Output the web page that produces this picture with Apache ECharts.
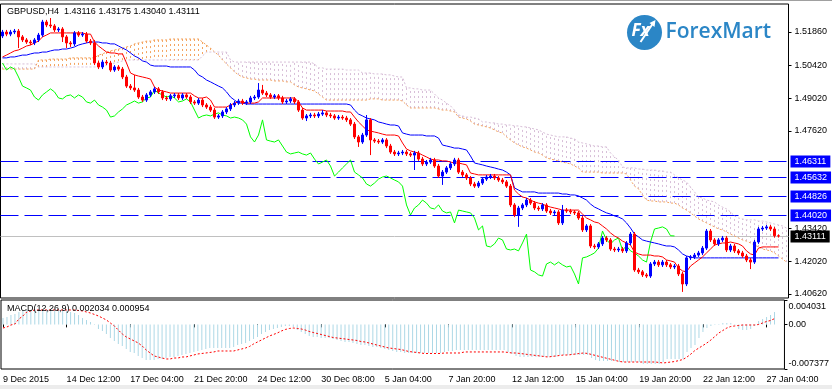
<!DOCTYPE html>
<html><head><meta charset="utf-8">
<script src="https://cdn.jsdelivr.net/npm/echarts@6/dist/echarts.min.js"></script>
<style>html,body{margin:0;padding:0;background:#fff}#c{width:832px;height:389px}</style>
</head><body><div id="c"></div>
<script>
const opens=[1.5169,1.5186,1.5177,1.5186,1.5190,1.5165,1.5152,1.5143,1.5139,1.5152,
1.5173,1.5229,1.5216,1.5212,1.5195,1.5199,1.5165,1.5139,1.5135,1.5182,
1.5173,1.5177,1.5147,1.5139,1.5053,1.5036,1.5057,1.5053,1.5023,1.5036,
1.5027,1.4993,1.4954,1.4946,1.4937,1.4907,1.4894,1.4916,1.4929,1.4942,
1.4929,1.4903,1.4899,1.4912,1.4916,1.4903,1.4916,1.4907,1.4886,1.4881,
1.4894,1.4873,1.4864,1.4851,1.4821,1.4826,1.4843,1.4856,1.4873,1.4881,
1.4890,1.4881,1.4886,1.4903,1.4907,1.4937,1.4924,1.4916,1.4907,1.4912,
1.4903,1.4886,1.4890,1.4899,1.4886,1.4851,1.4817,1.4826,1.4830,1.4826,
1.4834,1.4839,1.4830,1.4826,1.4817,1.4821,1.4817,1.4809,1.4791,1.4736,
1.4714,1.4744,1.4809,1.4723,1.4718,1.4714,1.4723,1.4697,1.4671,1.4663,
1.4667,1.4671,1.4663,1.4658,1.4667,1.4641,1.4620,1.4628,1.4637,1.4611,
1.4568,1.4585,1.4603,1.4620,1.4637,1.4585,1.4573,1.4560,1.4534,1.4525,
1.4538,1.4555,1.4564,1.4568,1.4560,1.4551,1.4543,1.4525,1.4444,1.4401,
1.4431,1.4444,1.4465,1.4452,1.4431,1.4427,1.4444,1.4418,1.4410,1.4414,
1.4367,1.4422,1.4418,1.4414,1.4410,1.4388,1.4337,1.4354,1.4268,1.4264,
1.4277,1.4302,1.4294,1.4255,1.4251,1.4255,1.4247,1.4281,1.4319,1.4165,
1.4157,1.4144,1.4139,1.4191,1.4199,1.4187,1.4199,1.4187,1.4178,1.4182,
1.4148,1.4105,1.4217,1.4221,1.4229,1.4238,1.4259,1.4332,1.4294,1.4277,
1.4294,1.4302,1.4251,1.4268,1.4247,1.4238,1.4225,1.4208,1.4199,1.4285,
1.4341,1.4345,1.4350,1.4341,1.43116];
const highs=[1.5195,1.5195,1.5195,1.5199,1.5199,1.5173,1.5160,1.5152,1.5160,1.5182,
1.5238,1.5238,1.5246,1.5220,1.5207,1.5207,1.5173,1.5147,1.5190,1.5190,
1.5186,1.5186,1.5156,1.5152,1.5062,1.5066,1.5066,1.5062,1.5044,1.5044,
1.5036,1.5002,1.4963,1.5002,1.4946,1.4916,1.4924,1.4937,1.4950,1.4950,
1.4937,1.4912,1.4920,1.4924,1.4924,1.4924,1.4924,1.4916,1.4894,1.4903,
1.4903,1.4881,1.4873,1.4860,1.4834,1.4851,1.4864,1.4881,1.4890,1.4899,
1.4899,1.4894,1.4912,1.4916,1.4967,1.4959,1.4933,1.4924,1.4920,1.4920,
1.4912,1.4899,1.4907,1.4907,1.4894,1.4860,1.4834,1.4839,1.4839,1.4843,
1.4851,1.4847,1.4839,1.4834,1.4830,1.4830,1.4826,1.4817,1.4800,1.4744,
1.4753,1.4830,1.4817,1.4731,1.4727,1.4731,1.4731,1.4706,1.4680,1.4676,
1.4680,1.4680,1.4671,1.4676,1.4676,1.4650,1.4637,1.4646,1.4646,1.4620,
1.4594,1.4611,1.4628,1.4646,1.4646,1.4594,1.4581,1.4568,1.4543,1.4547,
1.4564,1.4573,1.4577,1.4577,1.4568,1.4560,1.4551,1.4534,1.4452,1.4440,
1.4452,1.4474,1.4474,1.4461,1.4440,1.4452,1.4452,1.4427,1.4422,1.4422,
1.4444,1.4431,1.4427,1.4422,1.4418,1.4397,1.4362,1.4362,1.4277,1.4285,
1.4311,1.4311,1.4302,1.4264,1.4264,1.4264,1.4289,1.4328,1.4328,1.4174,
1.4165,1.4152,1.4199,1.4208,1.4208,1.4208,1.4208,1.4195,1.4191,1.4191,
1.4157,1.4225,1.4229,1.4238,1.4247,1.4268,1.4341,1.4341,1.4302,1.4302,
1.4311,1.4311,1.4277,1.4277,1.4255,1.4247,1.4234,1.4217,1.4294,1.4350,
1.4354,1.4358,1.4358,1.4350,1.43175];
const lows=[1.5160,1.5168,1.5168,1.5177,1.5117,1.5143,1.5135,1.5130,1.5130,1.5143,
1.5165,1.5207,1.5203,1.5186,1.5186,1.5143,1.5117,1.5122,1.5126,1.5165,
1.5165,1.5139,1.5130,1.5044,1.5027,1.5027,1.5044,1.5015,1.5015,1.5019,
1.4984,1.4946,1.4937,1.4929,1.4899,1.4886,1.4886,1.4907,1.4920,1.4920,
1.4894,1.4890,1.4890,1.4903,1.4894,1.4894,1.4899,1.4877,1.4873,1.4873,
1.4864,1.4856,1.4843,1.4813,1.4813,1.4817,1.4834,1.4847,1.4864,1.4873,
1.4873,1.4873,1.4877,1.4894,1.4899,1.4916,1.4907,1.4899,1.4899,1.4894,
1.4877,1.4877,1.4881,1.4877,1.4843,1.4809,1.4804,1.4817,1.4817,1.4817,
1.4826,1.4821,1.4817,1.4809,1.4809,1.4809,1.4800,1.4783,1.4727,1.4693,
1.4706,1.4736,1.4658,1.4710,1.4706,1.4706,1.4688,1.4663,1.4654,1.4654,
1.4658,1.4654,1.4650,1.4594,1.4633,1.4611,1.4611,1.4620,1.4603,1.4560,
1.4530,1.4577,1.4594,1.4611,1.4577,1.4564,1.4551,1.4525,1.4517,1.4517,
1.4530,1.4547,1.4555,1.4551,1.4543,1.4534,1.4517,1.4435,1.4392,1.4350,
1.4422,1.4435,1.4444,1.4422,1.4418,1.4418,1.4410,1.4401,1.4401,1.4358,
1.4358,1.4410,1.4405,1.4401,1.4380,1.4328,1.4328,1.4259,1.4255,1.4255,
1.4268,1.4285,1.4247,1.4242,1.4242,1.4238,1.4238,1.4272,1.4157,1.4148,
1.4135,1.4131,1.4131,1.4182,1.4178,1.4178,1.4178,1.4169,1.4169,1.4139,
1.4071,1.4096,1.4208,1.4212,1.4221,1.4229,1.4251,1.4285,1.4268,1.4268,
1.4285,1.4242,1.4242,1.4238,1.4229,1.4217,1.4199,1.4169,1.4191,1.4277,
1.4332,1.4337,1.4332,1.4304,1.43040];
const closes=[1.5186,1.5177,1.5186,1.5190,1.5165,1.5152,1.5143,1.5139,1.5152,1.5173,
1.5229,1.5216,1.5212,1.5195,1.5199,1.5165,1.5139,1.5135,1.5182,1.5173,
1.5177,1.5147,1.5139,1.5053,1.5036,1.5057,1.5053,1.5023,1.5036,1.5027,
1.4993,1.4954,1.4946,1.4937,1.4907,1.4894,1.4916,1.4929,1.4942,1.4929,
1.4903,1.4899,1.4912,1.4916,1.4903,1.4916,1.4907,1.4886,1.4881,1.4894,
1.4873,1.4864,1.4851,1.4821,1.4826,1.4843,1.4856,1.4873,1.4881,1.4890,
1.4881,1.4886,1.4903,1.4907,1.4937,1.4924,1.4916,1.4907,1.4912,1.4903,
1.4886,1.4890,1.4899,1.4886,1.4851,1.4817,1.4826,1.4830,1.4826,1.4834,
1.4839,1.4830,1.4826,1.4817,1.4821,1.4817,1.4809,1.4791,1.4736,1.4714,
1.4744,1.4809,1.4723,1.4718,1.4714,1.4723,1.4697,1.4671,1.4663,1.4667,
1.4671,1.4663,1.4658,1.4667,1.4641,1.4620,1.4628,1.4637,1.4611,1.4568,
1.4585,1.4603,1.4620,1.4637,1.4585,1.4573,1.4560,1.4534,1.4525,1.4538,
1.4555,1.4564,1.4568,1.4560,1.4551,1.4543,1.4525,1.4444,1.4401,1.4431,
1.4444,1.4465,1.4452,1.4431,1.4427,1.4444,1.4418,1.4410,1.4414,1.4367,
1.4422,1.4418,1.4414,1.4410,1.4388,1.4337,1.4354,1.4268,1.4264,1.4277,
1.4302,1.4294,1.4255,1.4251,1.4255,1.4247,1.4281,1.4319,1.4165,1.4157,
1.4144,1.4139,1.4191,1.4199,1.4187,1.4199,1.4187,1.4178,1.4182,1.4148,
1.4105,1.4217,1.4221,1.4229,1.4238,1.4259,1.4332,1.4294,1.4277,1.4294,
1.4302,1.4251,1.4268,1.4247,1.4238,1.4225,1.4208,1.4199,1.4285,1.4341,
1.4345,1.4350,1.4341,1.4312,1.43111];
const tenkan=[1.5079,1.5087,1.5096,1.5105,1.5109,1.5117,1.5126,1.5130,1.5139,1.5147,
1.5165,1.5173,1.5182,1.5182,1.5182,1.5182,1.5182,1.5182,1.5182,1.5182,
1.5182,1.5177,1.5177,1.5143,1.5126,1.5113,1.5100,1.5096,1.5096,1.5092,
1.5092,1.5053,1.5010,1.5002,1.4997,1.4993,1.4989,1.4984,1.4950,1.4937,
1.4933,1.4929,1.4924,1.4924,1.4924,1.4924,1.4924,1.4924,1.4912,1.4903,
1.4903,1.4907,1.4894,1.4864,1.4864,1.4864,1.4864,1.4873,1.4881,1.4886,
1.4886,1.4881,1.4881,1.4881,1.4886,1.4903,1.4903,1.4903,1.4903,1.4903,
1.4903,1.4903,1.4903,1.4903,1.4886,1.4860,1.4851,1.4851,1.4851,1.4851,
1.4851,1.4847,1.4847,1.4847,1.4847,1.4847,1.4843,1.4843,1.4821,1.4800,
1.4783,1.4766,1.4761,1.4757,1.4753,1.4748,1.4744,1.4744,1.4744,1.4740,
1.4710,1.4684,1.4676,1.4671,1.4667,1.4658,1.4650,1.4641,1.4637,1.4637,
1.4633,1.4633,1.4628,1.4624,1.4624,1.4620,1.4616,1.4581,1.4577,1.4573,
1.4573,1.4573,1.4573,1.4573,1.4573,1.4573,1.4573,1.4573,1.4508,1.4491,
1.4478,1.4474,1.4465,1.4457,1.4452,1.4448,1.4440,1.4435,1.4431,1.4427,
1.4422,1.4422,1.4422,1.4422,1.4422,1.4405,1.4388,1.4380,1.4371,1.4367,
1.4354,1.4341,1.4324,1.4311,1.4302,1.4289,1.4281,1.4272,1.4242,1.4234,
1.4229,1.4229,1.4229,1.4225,1.4225,1.4221,1.4208,1.4204,1.4199,1.4174,
1.4161,1.4157,1.4182,1.4195,1.4208,1.4221,1.4238,1.4255,1.4272,1.4277,
1.4281,1.4281,1.4285,1.4281,1.4277,1.4268,1.4247,1.4234,1.4229,1.4259,
1.4264,1.4264,1.4264,1.4264,1.4264];
const kijun=[1.5075,1.5075,1.5079,1.5079,1.5083,1.5087,1.5087,1.5092,1.5096,1.5096,
1.5100,1.5100,1.5105,1.5109,1.5109,1.5113,1.5113,1.5117,1.5122,1.5130,
1.5135,1.5139,1.5143,1.5143,1.5143,1.5139,1.5139,1.5135,1.5135,1.5126,
1.5117,1.5109,1.5096,1.5083,1.5075,1.5062,1.5057,1.5044,1.5040,1.5040,
1.5040,1.5040,1.5036,1.5036,1.5036,1.5036,1.5036,1.5036,1.5023,1.5002,
1.4993,1.4980,1.4972,1.4963,1.4954,1.4946,1.4929,1.4907,1.4894,1.4881,
1.4881,1.4877,1.4877,1.4877,1.4877,1.4877,1.4877,1.4877,1.4877,1.4877,
1.4877,1.4877,1.4877,1.4877,1.4877,1.4877,1.4877,1.4877,1.4877,1.4877,
1.4877,1.4877,1.4877,1.4877,1.4877,1.4877,1.4877,1.4873,1.4851,1.4834,
1.4826,1.4817,1.4813,1.4809,1.4800,1.4796,1.4791,1.4787,1.4787,1.4783,
1.4753,1.4748,1.4744,1.4744,1.4744,1.4744,1.4740,1.4740,1.4740,1.4731,
1.4701,1.4697,1.4693,1.4688,1.4688,1.4684,1.4680,1.4654,1.4624,1.4620,
1.4616,1.4611,1.4607,1.4603,1.4598,1.4594,1.4585,1.4573,1.4517,1.4508,
1.4500,1.4500,1.4500,1.4500,1.4495,1.4495,1.4495,1.4495,1.4495,1.4495,
1.4491,1.4491,1.4487,1.4487,1.4483,1.4474,1.4465,1.4448,1.4435,1.4427,
1.4418,1.4410,1.4405,1.4397,1.4392,1.4384,1.4367,1.4345,1.4319,1.4307,
1.4294,1.4289,1.4285,1.4281,1.4277,1.4272,1.4268,1.4268,1.4264,1.4251,
1.4234,1.4225,1.4221,1.4217,1.4217,1.4217,1.4217,1.4217,1.4217,1.4217,
1.4217,1.4217,1.4217,1.4217,1.4217,1.4217,1.4217,1.4217,1.4217,1.4217,
1.4217,1.4217,1.4217,1.4217,1.4217];
const spanA=[1.5027,1.5027,1.5027,1.5027,1.5027,1.5027,1.5027,1.5027,1.5027,
1.5066,1.5066,1.5066,1.5070,1.5070,1.5070,1.5070,1.5070,
1.5075,1.5075,1.5075,1.5075,1.5075,1.5075,1.5075,
1.5087,1.5092,1.5100,1.5105,1.5109,1.5113,1.5117,1.5122,1.5126,1.5135,1.5139,1.5143,1.5147,1.5147,1.5152,1.5152,1.5152,1.5152,
1.5156,1.5156,1.5156,1.5156,1.5156,1.5156,1.5156,1.5156,
1.5143,1.5130,1.5117,1.5100,1.5087,1.5066,1.5049,1.5032,1.5015,1.5002,
1.4993,1.4989,1.4984,1.4984,1.4980,1.4980,1.4980,1.4980,1.4976,1.4976,
1.4976,1.4972,1.4972,1.4959,1.4950,1.4946,1.4942,1.4937,1.4933,1.4920,
1.4907,
1.4894,1.4894,1.4894,1.4894,1.4894,1.4894,1.4894,1.4894,1.4894,1.4894,1.4894,
1.4899,1.4899,1.4899,
1.4894,1.4894,1.4894,1.4894,1.4894,
1.4890,1.4873,
1.4860,1.4860,1.4860,1.4860,1.4860,1.4860,1.4860,
1.4856,1.4851,1.4851,1.4847,1.4843,1.4821,1.4817,1.4813,1.4804,1.4791,
1.4787,1.4783,1.4779,1.4774,1.4766,1.4757,1.4753,1.4736,1.4723,1.4710,
1.4701,1.4693,1.4688,1.4680,1.4671,1.4667,1.4658,1.4646,1.4641,1.4637,
1.4633,1.4628,1.4624,1.4620,1.4611,1.4603,
1.4585,1.4585,1.4585,1.4585,1.4585,
1.4581,1.4581,1.4581,1.4581,1.4581,1.4581,
1.4577,1.4551,1.4525,1.4513,1.4487,1.4465,1.4461,1.4461,1.4457,1.4457,
1.4457,1.4452,1.4452,1.4444,1.4431,1.4422,1.4410,1.4397,1.4384,1.4375,
1.4367,1.4358,1.4350,1.4341,1.4337,1.4328,1.4319,1.4311,1.4302,1.4294,
1.4289,1.4281,1.4272,1.4264,1.4255,1.4251,1.4247,1.4238,1.4225,1.4212,
1.4199];
const spanB=[1.5049,1.5049,1.5049,1.5049,1.5049,1.5049,1.5049,1.5049,1.5049,
1.5036,1.5036,1.5036,1.5036,1.5036,1.5036,1.5036,1.5036,1.5036,1.5036,1.5036,1.5036,1.5036,1.5036,1.5036,1.5036,
1.5040,1.5044,1.5049,1.5053,1.5057,1.5062,
1.5066,1.5066,1.5066,1.5066,1.5066,1.5066,1.5066,1.5066,1.5066,1.5066,1.5066,1.5066,1.5066,1.5066,1.5066,1.5066,1.5066,1.5066,1.5066,
1.5083,
1.5100,1.5100,1.5100,1.5100,1.5100,1.5100,
1.5066,
1.5057,1.5057,1.5057,1.5057,1.5057,1.5057,1.5057,1.5057,1.5057,1.5057,1.5057,1.5057,1.5057,1.5057,1.5057,1.5057,1.5057,1.5057,1.5057,1.5057,
1.5049,1.5032,1.5032,
1.5027,1.5027,1.5027,1.5027,1.5027,
1.5023,1.5023,1.5023,1.5023,
1.5010,1.5010,1.5010,
1.5006,1.5006,1.5006,
1.5002,1.5002,1.4997,1.4993,1.4993,
1.4946,1.4946,1.4942,1.4942,1.4937,1.4937,1.4937,
1.4920,1.4903,1.4894,1.4881,1.4869,1.4851,1.4830,1.4826,1.4821,1.4821,
1.4817,1.4813,1.4800,1.4800,1.4796,1.4796,1.4791,1.4791,1.4787,1.4787,
1.4783,1.4783,1.4779,1.4779,1.4774,1.4770,1.4766,1.4757,1.4748,1.4744,
1.4740,1.4736,1.4736,1.4736,1.4731,1.4727,1.4714,1.4710,1.4706,1.4701,
1.4697,1.4697,1.4693,1.4693,1.4667,1.4650,1.4637,1.4607,1.4603,1.4603,
1.4603,1.4598,1.4598,1.4594,1.4594,1.4594,1.4590,1.4590,1.4585,1.4585,
1.4573,1.4560,1.4551,1.4543,1.4521,1.4500,1.4478,1.4474,1.4465,1.4461,
1.4457,1.4444,1.4435,1.4427,1.4414,1.4397,1.4388,1.4384,1.4380,1.4380,
1.4380,1.4375,1.4375,1.4371,1.4367,1.4362,1.4358,1.4354,1.4345];
const macdMain=[0.00106,0.00122,0.00155,0.00172,0.00205,0.00222,0.00238,0.00238,0.00255,0.00255,
0.00255,0.00255,0.00255,0.00255,0.00238,0.00238,0.00222,0.00205,0.00188,0.00155,
0.00106,0.00073,0.00040,-0.00010,-0.00076,-0.00109,-0.00159,-0.00225,-0.00274,-0.00324,
-0.00357,-0.00407,-0.00456,-0.00473,-0.00522,-0.00556,-0.00589,-0.00589,-0.00589,-0.00572,
-0.00572,-0.00556,-0.00539,-0.00539,-0.00522,-0.00506,-0.00489,-0.00473,-0.00456,-0.00440,
-0.00423,-0.00407,-0.00390,-0.00390,-0.00390,-0.00390,-0.00390,-0.00390,-0.00374,-0.00341,
-0.00324,-0.00307,-0.00274,-0.00241,-0.00208,-0.00159,-0.00126,-0.00093,-0.00076,-0.00060,
-0.00043,-0.00026,-0.00026,-0.00043,-0.00093,-0.00126,-0.00159,-0.00192,-0.00208,-0.00208,
-0.00225,-0.00225,-0.00225,-0.00241,-0.00258,-0.00274,-0.00291,-0.00291,-0.00307,-0.00324,
-0.00341,-0.00341,-0.00357,-0.00374,-0.00374,-0.00390,-0.00407,-0.00423,-0.00440,-0.00456,
-0.00456,-0.00473,-0.00473,-0.00473,-0.00473,-0.00473,-0.00473,-0.00473,-0.00473,-0.00473,
-0.00473,-0.00456,-0.00440,-0.00440,-0.00423,-0.00423,-0.00423,-0.00423,-0.00423,-0.00423,
-0.00423,-0.00423,-0.00423,-0.00423,-0.00423,-0.00423,-0.00423,-0.00456,-0.00489,-0.00522,
-0.00539,-0.00539,-0.00539,-0.00539,-0.00539,-0.00539,-0.00539,-0.00539,-0.00539,-0.00539,
-0.00506,-0.00506,-0.00506,-0.00506,-0.00506,-0.00506,-0.00506,-0.00506,-0.00556,-0.00589,
-0.00605,-0.00605,-0.00605,-0.00605,-0.00605,-0.00622,-0.00622,-0.00622,-0.00622,-0.00622,
-0.00622,-0.00655,-0.00655,-0.00655,-0.00655,-0.00655,-0.00622,-0.00572,-0.00572,-0.00572,
-0.00572,-0.00572,-0.00456,-0.00390,-0.00341,-0.00225,-0.00126,-0.00060,-0.00026,0.00007,
0.00007,0.00023,0.00023,0.00023,0.00007,-0.00076,-0.00093,-0.00093,-0.00076,-0.00026,
0.00056,0.00089,0.00122,0.00155,0.002034];
const macdSignal=[-0.00060,-0.00043,-0.00010,0.00007,0.00089,0.00139,0.00205,0.00222,0.00238,0.00238,
0.00238,0.00238,0.00238,0.00238,0.00238,0.00238,0.00238,0.00238,0.00238,0.00230,
0.00222,0.00205,0.00188,0.00164,0.00139,0.00106,0.00073,0.00023,-0.00026,-0.00093,
-0.00159,-0.00208,-0.00241,-0.00274,-0.00307,-0.00357,-0.00423,-0.00473,-0.00522,-0.00539,
-0.00556,-0.00572,-0.00572,-0.00556,-0.00556,-0.00539,-0.00539,-0.00522,-0.00506,-0.00489,
-0.00481,-0.00473,-0.00464,-0.00456,-0.00440,-0.00440,-0.00440,-0.00440,-0.00440,-0.00423,
-0.00407,-0.00390,-0.00365,-0.00324,-0.00291,-0.00258,-0.00225,-0.00192,-0.00167,-0.00142,
-0.00109,-0.00084,-0.00068,-0.00060,-0.00068,-0.00076,-0.00093,-0.00117,-0.00134,-0.00150,
-0.00167,-0.00183,-0.00200,-0.00217,-0.00225,-0.00233,-0.00241,-0.00250,-0.00258,-0.00266,
-0.00283,-0.00291,-0.00307,-0.00324,-0.00341,-0.00357,-0.00374,-0.00390,-0.00398,-0.00407,
-0.00415,-0.00431,-0.00448,-0.00456,-0.00464,-0.00473,-0.00481,-0.00481,-0.00481,-0.00481,
-0.00481,-0.00473,-0.00473,-0.00473,-0.00473,-0.00473,-0.00456,-0.00456,-0.00456,-0.00456,
-0.00456,-0.00456,-0.00456,-0.00456,-0.00456,-0.00456,-0.00456,-0.00464,-0.00473,-0.00473,
-0.00481,-0.00489,-0.00498,-0.00506,-0.00514,-0.00522,-0.00531,-0.00539,-0.00531,-0.00522,
-0.00514,-0.00506,-0.00506,-0.00498,-0.00489,-0.00481,-0.00473,-0.00481,-0.00498,-0.00514,
-0.00531,-0.00547,-0.00564,-0.00580,-0.00597,-0.00613,-0.00622,-0.00622,-0.00622,-0.00622,
-0.00622,-0.00622,-0.00622,-0.00622,-0.00622,-0.00630,-0.00638,-0.00630,-0.00622,-0.00613,
-0.00597,-0.00580,-0.00539,-0.00489,-0.00431,-0.00390,-0.00349,-0.00307,-0.00258,-0.00200,
-0.00142,-0.00101,-0.00060,-0.00035,-0.00026,-0.00018,-0.00010,-0.00010,-0.00010,-0.00010,
-0.00002,0.00023,0.00048,0.00064,0.000954];
const tickLabels=["9 Dec 2015","14 Dec 12:00","17 Dec 04:00","21 Dec 20:00","24 Dec 12:00","30 Dec 08:00","5 Jan 04:00","7 Jan 20:00","12 Jan 12:00","15 Jan 04:00","19 Jan 20:00","22 Jan 12:00","27 Jan 04:00"];
const priceTicks=[1.5186,1.5042,1.4902,1.4762,1.4342,1.4202,1.4062];
const levels=[1.46311,1.45632,1.44826,1.44020];
const lastPrice=1.43111;
const macdTicks=[0.004031,0,-0.007377];
const macdTickLabels=["0.004031","0.00","-0.007377"];
const headerText="GBPUSD,H4  1.43116 1.43175 1.43040 1.43111";
const macdText="MACD(12,26,9) 0.002034 0.000954";

const NCAT=197, STEP=16;
const cats=[];for(let i=0;i<NCAT;i++)cats.push(String(i));
const candles=opens.map((o,i)=>[o,closes[i],lows[i],highs[i]]);
const chikou=closes.slice(26);
const cloud=spanA.map((a,i)=>[i,a,spanB[i]]);
const FONT='Liberation Sans';

function levelRenderer(stroke,dash,bg){
  return (params,api)=>{
    const v=api.value(1);
    const cs=params.coordSys;
    const y=Math.round(api.coord([0,v])[1])+0.5;
    return {type:'group',children:[
      {type:'line',shape:{x1:cs.x,y1:y,x2:cs.x+cs.width,y2:y},
       style:{stroke:stroke,lineWidth:1,lineDash:dash}},
      {type:'text',x:cs.x+cs.width+2,y:y,
       style:{text:v.toFixed(5),fill:'#fff',backgroundColor:bg,padding:[2,4,1,4],
         font:'9px "Liberation Sans"',verticalAlign:'middle',align:'left'}}
    ]};
  };
}

const chart=echarts.init(document.getElementById('c'),null,{renderer:'canvas'});
chart.setOption({
  animation:false,
  backgroundColor:'#fff',
  grid:[
    {left:0.5,top:4,width:788,height:294,show:true,borderColor:'#000',borderWidth:1,backgroundColor:'#fff'},
    {left:0.5,top:300,width:788,height:69,show:true,borderColor:'#000',borderWidth:1,backgroundColor:'#fff'}
  ],
  xAxis:[
    {type:'category',gridIndex:0,data:cats,boundaryGap:true,axisLine:{show:false},axisTick:{show:false},axisLabel:{show:false},splitLine:{show:false}},
    {type:'category',gridIndex:1,data:cats,boundaryGap:true,axisLine:{show:false},
     axisTick:{show:true,interval:STEP-1,alignWithLabel:true,length:3,lineStyle:{color:'#000'}},
     axisLabel:{show:true,interval:STEP-1,align:'left',margin:6,fontSize:9,fontFamily:FONT,color:'#000',
       formatter:(v,idx)=> (idx%STEP===0 && tickLabels[idx/STEP]) ? tickLabels[idx/STEP] : ''},
     splitLine:{show:false}}
  ],
  yAxis:[
    {type:'value',gridIndex:0,position:'right',min:1.404488,max:1.530614,scale:true,splitLine:{show:false},
     axisLine:{show:false},
     axisTick:{show:true,customValues:priceTicks,length:3,lineStyle:{color:'#000'}},
     axisLabel:{show:true,customValues:priceTicks,margin:6,fontSize:9,fontFamily:FONT,color:'#000',formatter:v=>v.toFixed(5)}},
    {type:'value',gridIndex:1,position:'right',min:-0.007377,max:0.004031,splitLine:{show:false},
     axisLine:{show:false},
     axisTick:{show:true,customValues:macdTicks,length:3,lineStyle:{color:'#000'}},
     axisLabel:{show:true,customValues:macdTicks,margin:4,fontSize:9,fontFamily:FONT,color:'#000',
       formatter:v=>{const k=macdTicks.indexOf(v);const s=k>=0?macdTickLabels[k]:String(v);
         if(k===0)return '{t|'+s+'}'; if(k===2)return '{b|'+s+'}'; return s;},
       rich:{t:{padding:[14,0,0,0],fontSize:9,fontFamily:FONT,color:'#000'},b:{padding:[0,0,10,0],fontSize:9,fontFamily:FONT,color:'#000'}}}}
  ],
  series:[
    {type:'custom',xAxisIndex:0,yAxisIndex:0,data:cloud,silent:true,z:1,clip:true,
     encode:{x:0,y:[1,2]},
     renderItem:(params,api)=>{
       const i=api.value(0),a=api.value(1),b=api.value(2);
       const p1=api.coord([i,a]),p2=api.coord([i,b]);
       const x=Math.round(p1[0]-0.5)+0.5;
       return {type:'line',shape:{x1:x,y1:p1[1],x2:x,y2:p2[1]},
         style:{stroke:a>b?'#f4a460':'#d8bfd8',lineWidth:1,lineDash:[2,3]}};
     }},
    {type:'line',name:'SpanA',xAxisIndex:0,yAxisIndex:0,data:spanA,symbol:'none',z:2,
     lineStyle:{color:'#f4a460',width:1,type:[2,2]}},
    {type:'line',name:'SpanB',xAxisIndex:0,yAxisIndex:0,data:spanB,symbol:'none',z:2,
     lineStyle:{color:'#d8bfd8',width:1,type:[2,2]}},
    {type:'custom',name:'Levels',xAxisIndex:0,yAxisIndex:0,silent:true,clip:false,z:2,
     data:levels.map(v=>[0,v]),encode:{x:0,y:1},
     renderItem:levelRenderer('#0000ff',[18,6],'#0000ff')},
    {type:'custom',name:'Last',xAxisIndex:0,yAxisIndex:0,silent:true,clip:false,z:2,
     data:[[0,lastPrice]],encode:{x:0,y:1},
     renderItem:levelRenderer('#c0c0c0',null,'#000')},
    {type:'line',name:'Chikou',xAxisIndex:0,yAxisIndex:0,data:chikou,symbol:'none',z:3,
     lineStyle:{color:'#00ff00',width:1}},
    {type:'line',name:'Kijun',xAxisIndex:0,yAxisIndex:0,data:kijun,symbol:'none',z:3,
     lineStyle:{color:'#0000ff',width:1}},
    {type:'line',name:'Tenkan',xAxisIndex:0,yAxisIndex:0,data:tenkan,symbol:'none',z:3,
     lineStyle:{color:'#ff0000',width:1}},
    {type:'candlestick',xAxisIndex:0,yAxisIndex:0,data:candles,barWidth:2,z:5,
     itemStyle:{color:'#0000ff',color0:'#ff0000',borderColor:'#0000ff',borderColor0:'#ff0000',borderWidth:1}},
    {type:'bar',xAxisIndex:1,yAxisIndex:1,data:macdMain,barWidth:1,z:2,itemStyle:{color:'#add8e6'}},
    {type:'line',xAxisIndex:1,yAxisIndex:1,data:macdSignal,symbol:'none',z:3,
     lineStyle:{color:'#ff0000',width:1,type:[2,2]}}
  ],
  graphic:[
    {type:'rect',shape:{x:0,y:0,width:832,height:1},style:{fill:'#a0a0a0'},z:10},
    {type:'rect',shape:{x:0,y:385,width:832,height:4},style:{fill:'#ececec'},z:10},
    {type:'text',left:7,top:7,style:{text:headerText,font:'9px "Liberation Sans"',fill:'#000'},z:20},
    {type:'text',left:7,top:304,style:{text:macdText,font:'9px "Liberation Sans"',fill:'#000'},z:20},
    {type:'group',left:627,top:15,z:20,children:[
      {type:'circle',shape:{cx:18,cy:17.5,r:17.5},style:{fill:'#2b86c6'}},
      {type:'text',x:5,y:8,style:{text:'Fx',font:'bold italic 17px "Open Sans"',fill:'#fff'}},
      {type:'polyline',shape:{points:[[14,27],[26,9]]},style:{stroke:'#fff',lineWidth:2}},
      {type:'polygon',shape:{points:[[23,8],[29,5],[28,12]]},style:{fill:'#fff'}},
      {type:'text',x:39,y:7,style:{text:'ForexMart',font:'600 21px "Open Sans"',fill:'#2b86c6'}}
    ]}
  ]
});
</script>
</body></html>
